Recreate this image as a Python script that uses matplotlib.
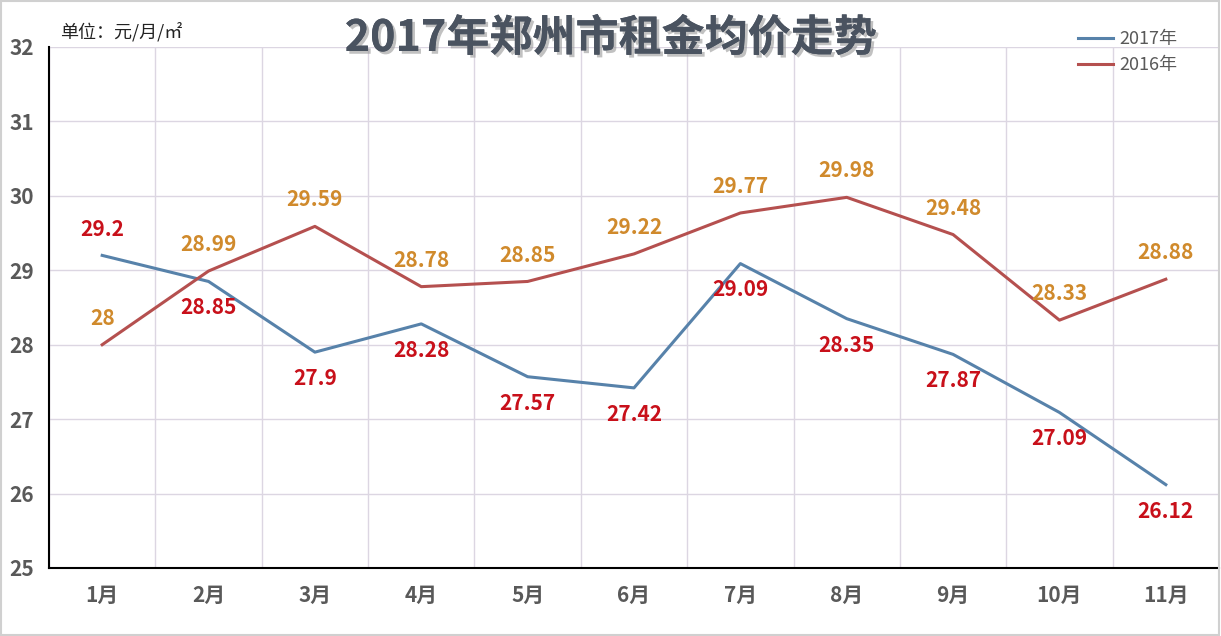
import matplotlib
matplotlib.use('Agg')
import matplotlib.pyplot as plt
import matplotlib.patheffects as pe
import numpy as np

plt.rcParams['font.family'] = ['Noto Sans CJK SC', 'DejaVu Sans']

# data
months = ['1月', '2月', '3月', '4月', '5月', '6月', '7月', '8月', '9月', '10月', '11月']
rent_2017 = [29.2, 28.85, 27.9, 28.28, 27.57, 27.42, 29.09, 28.35, 27.87, 27.09, 26.12]
rent_2016 = [28, 28.99, 29.59, 28.78, 28.85, 29.22, 29.77, 29.98, 29.48, 28.33, 28.88]
labels_2017 = ['29.2', '28.85', '27.9', '28.28', '27.57', '27.42', '29.09', '28.35', '27.87', '27.09', '26.12']
labels_2016 = ['28', '28.99', '29.59', '28.78', '28.85', '29.22', '29.77', '29.98', '29.48', '28.33', '28.88']
# +1 label above point, -1 below
side_2017 = [1, -1, -1, -1, -1, -1, -1, -1, -1, -1, -1]
side_2016 = [1] * 11

blue = '#5782aa'
red = '#b5504f'
lbl_red = '#c8101a'
lbl_orange = '#d08a2c'
grey = '#595959'

fig = plt.figure(figsize=(12.21, 6.36), dpi=100)
ax = fig.add_axes([49/1221, 1-568/636, 1170/1221, 521/636])

x = np.arange(len(months))
ax.plot(x, rent_2017, color=blue, lw=2.2, label='2017年', zorder=3)
ax.plot(x, rent_2016, color=red, lw=2.2, label='2016年', zorder=3)

for xi, v, t, s in zip(x, rent_2017, labels_2017, side_2017):
    ax.annotate(t, (xi, v), xytext=(0, 19*s), textcoords='offset points',
                ha='center', va='center', fontsize=15, fontweight='bold', color=lbl_red, zorder=4)
for xi, v, t, s in zip(x, rent_2016, labels_2016, side_2016):
    ax.annotate(t, (xi, v), xytext=(0, 19*s), textcoords='offset points',
                ha='center', va='center', fontsize=15, fontweight='bold', color=lbl_orange, zorder=4)

ax.set_xlim(-0.5, len(months) - 0.5)
ax.set_ylim(25, 32)
ax.set_yticks(range(25, 33))
ax.set_xticks(x)
ax.set_xticklabels(months)
ax.set_xticks(np.arange(-0.5, len(months)), minor=True)
ax.grid(True, which='major', axis='y', color='#dcd6e2', lw=1)
ax.grid(True, which='minor', axis='x', color='#dcd6e2', lw=1)
ax.set_axisbelow(True)
ax.tick_params(which='both', length=0)
ax.tick_params(axis='y', pad=11, labelsize=15, labelcolor=grey)
ax.tick_params(axis='x', pad=12, labelsize=15, labelcolor=grey)
for lab in ax.get_xticklabels() + ax.get_yticklabels():
    lab.set_fontweight('bold')

for side in ['top', 'right']:
    ax.spines[side].set_visible(False)
ax.spines['left'].set_color('black')
ax.spines['bottom'].set_color('black')
ax.spines['left'].set_linewidth(1.5)
ax.spines['bottom'].set_linewidth(1.5)

fig.text(0.5, 1-38/636, '2017年郑州市租金均价走势', ha='center', va='center',
         fontsize=31, fontweight='bold', color='#4a5360',
         path_effects=[pe.withSimplePatchShadow(offset=(2, -2), shadow_rgbFace='#999999', alpha=0.6), pe.Normal()])
fig.text(60/1221, 1-32/636, '单位：元/月/㎡', ha='left', va='center', fontsize=13, color='#222222')

leg = fig.legend(loc='upper left', bbox_to_anchor=(1062/1221, 1-14/636), frameon=False,
                 fontsize=13, handlelength=1.9, labelspacing=0.45, handletextpad=0.4)
for t in leg.get_texts():
    t.set_color(grey)

# light border round the whole picture
fig.patches.append(plt.Rectangle((0.001, 0.002), 0.997, 0.996, transform=fig.transFigure,
                                 fill=False, edgecolor='#d0d0d0', lw=1.5))

fig.savefig('out.png', dpi=100)
